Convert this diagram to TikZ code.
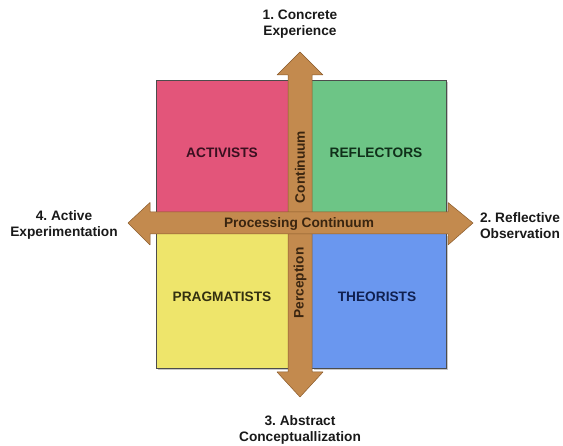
\documentclass[tikz,border=0pt]{standalone}
\usepackage{fontspec}
\setmainfont{Liberation Sans}
\frenchspacing
\definecolor{cpink}{HTML}{E3557A}
\definecolor{cgreen}{HTML}{6DC586}
\definecolor{cyellow}{HTML}{EEE56B}
\definecolor{cblue}{HTML}{6A97EF}
\definecolor{carrow}{HTML}{C38A4E}
\definecolor{carrowd}{HTML}{8A5A2A}
\definecolor{tpink}{HTML}{3A1020}
\definecolor{tgreen}{HTML}{10301A}
\definecolor{tyellow}{HTML}{333010}
\definecolor{tblue}{HTML}{102050}
\definecolor{tarrow}{HTML}{3A2510}
\begin{document}
\begin{tikzpicture}[x=1pt,y=-1pt,
  quad/.style={draw=black!70,line width=0.6pt},
  qlabel/.style={font=\fontsize{13.7}{16}\selectfont\bfseries},
  corner/.style={font=\fontsize{13.7}{16}\selectfont\bfseries,align=center,text=black!90},
  arrowshape/.style={fill=carrow,draw=carrowd,line width=0.5pt,line join=round},
  alabel/.style={font=\fontsize{13.7}{16}\selectfont\bfseries,text=tarrow}]
\useasboundingbox (0,0) rectangle (563,446);
% shadows
\fill[black!22] (158,82) rectangle (302,225);
\fill[black!22] (314,82) rectangle (448,225);
\fill[black!22] (158,236) rectangle (302,370);
\fill[black!22] (314,236) rectangle (448,370);
% quadrants
\filldraw[quad,fill=cpink] (156,80) rectangle (300,223);
\filldraw[quad,fill=cgreen] (300,80) rectangle (446,223);
\filldraw[quad,fill=cyellow] (156,223) rectangle (300,368);
\filldraw[quad,fill=cblue] (300,223) rectangle (446,368);
% vertical arrow
\filldraw[arrowshape] (300,52) -- (323,75) -- (312,75) -- (312,372) -- (323,372)
  -- (300,397) -- (277,372) -- (288,372) -- (288,75) -- (277,75) -- cycle;
% horizontal arrow
\filldraw[arrowshape] (128,223) -- (150,202.5) -- (150,212) -- (448,212) -- (448,202.5)
  -- (473,223) -- (448,245) -- (448,234) -- (150,234) -- (150,245) -- cycle;
% labels
\node[qlabel,text=tpink] (act) at (222,153) {ACTIVISTS};
\node[qlabel,text=tgreen] (ref) at (376,153) {REFLECTORS};
\node[qlabel,text=tyellow] (prag) at (222,297) {PRAGMATISTS};
\node[qlabel,text=tblue] (theo) at (377,297) {THEORISTS};
\node[alabel] (proc) at (299,224) {Processing Continuum};
\node[alabel,rotate=90] (cont) at (300,167) {Continuum};
\node[alabel,rotate=90] (perc) at (300,283) {Perception};
\node[corner] (ce) at (300,24.5) {1. Concrete\\Experience};
\node[corner] (ac) at (300,429.5) {3. Abstract\\Conceptuallization};
\node[corner] (ae) at (64,225) {4. Active\\Experimentation};
\node[corner] (ro) at (520,225.5) {2. Reflective\\Observation};
\end{tikzpicture}
\end{document}
